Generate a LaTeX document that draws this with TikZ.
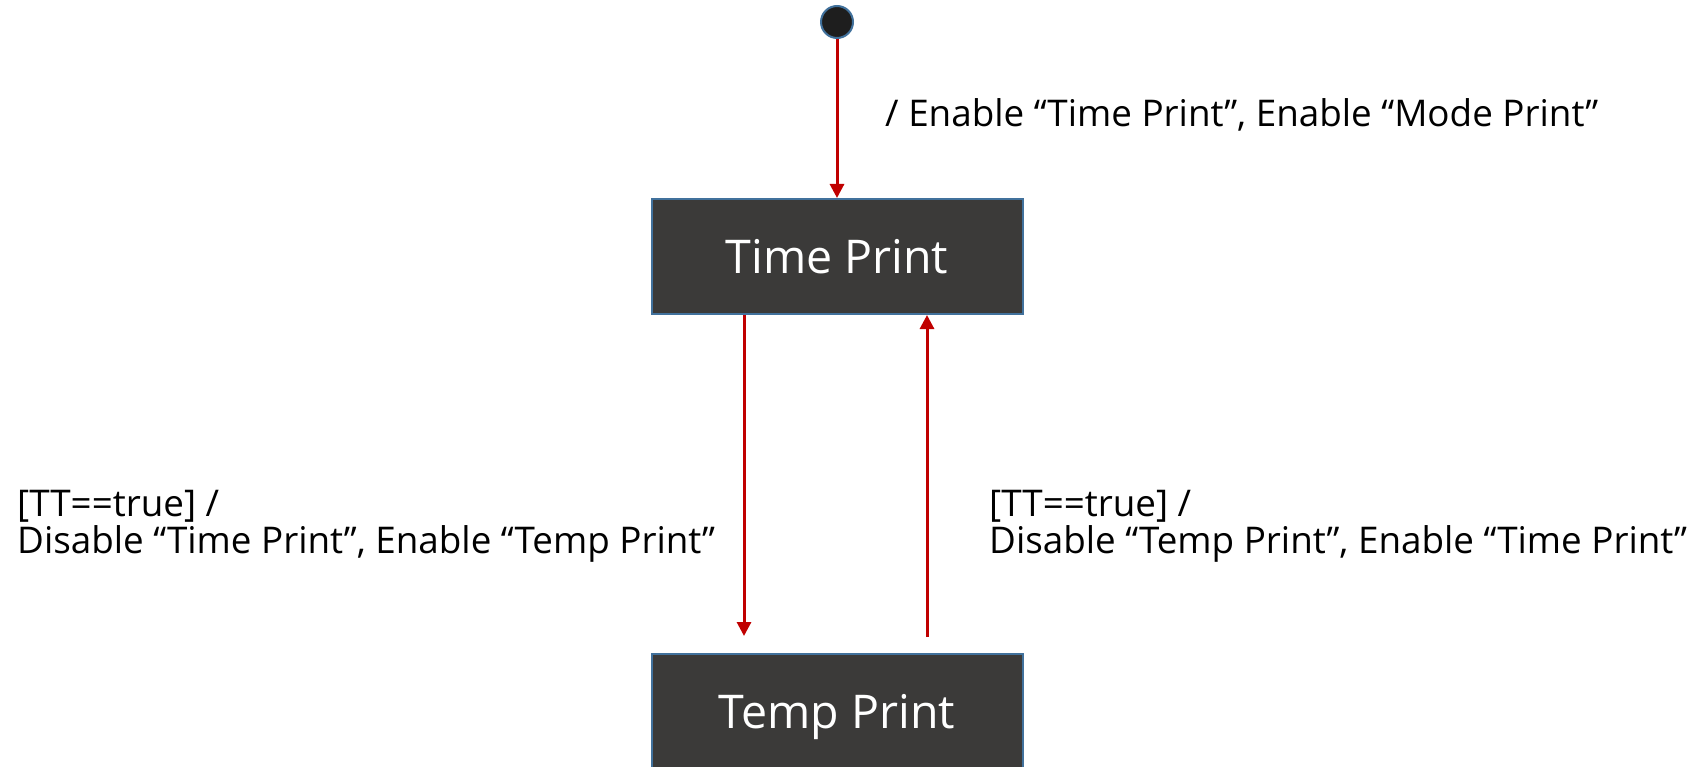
\documentclass[tikz,border=0pt]{standalone}
\usepackage{fontspec}
\setmainfont{Open Sans}
\usetikzlibrary{arrows.meta}
\definecolor{boxfill}{HTML}{3B3A39}
\definecolor{boxline}{HTML}{41719C}
\definecolor{arrred}{HTML}{C00000}
\definecolor{dotfill}{HTML}{1E1E1E}
\tikzset{
  statebox/.style={draw=boxline, line width=2pt, fill=boxfill, text=white,
    minimum width=371pt, minimum height=115pt, inner sep=0pt,
    font=\fontsize{46.5}{54}\selectfont},
  initdot/.style={circle, draw=boxline, line width=2pt, fill=dotfill,
    minimum size=32pt, inner sep=0pt},
  trans/.style={draw=arrred, line width=3pt,
    -{Triangle[length=14pt,width=14pt]}},
  lbl/.style={anchor=base west, align=left, inner sep=0pt,
    font=\fontsize{36.8}{37}\selectfont}
}
\begin{document}
\begin{tikzpicture}[x=1pt,y=-1pt]
\useasboundingbox (0,0) rectangle (1693,767);
\node[initdot] (init) at (837,22) {};
\node[statebox] (time) at (837,256.5) {Time Print};
\node[statebox] (temp) at (837,711) {\raisebox{-6pt}[\height][\depth]{Temp Print}};
\coordinate (dn) at (744,636);
\coordinate (up) at (927,637);
\draw[trans] (init) -- (time.north);
\draw[trans] (time.south -| dn) -- (dn);
\draw[trans] (up) -- (time.south -| up);
\node[lbl] (l0) at (885,127) {/ Enable “Time Print”, Enable “Mode Print”};
\node[lbl] (l1) at (17,553) {[TT==true] /\\Disable “Time Print”, Enable “Temp Print”};
\node[lbl] (l2) at (989,553) {[TT==true] /\\Disable “Temp Print”, Enable “Time Print”};
\end{tikzpicture}
\end{document}
